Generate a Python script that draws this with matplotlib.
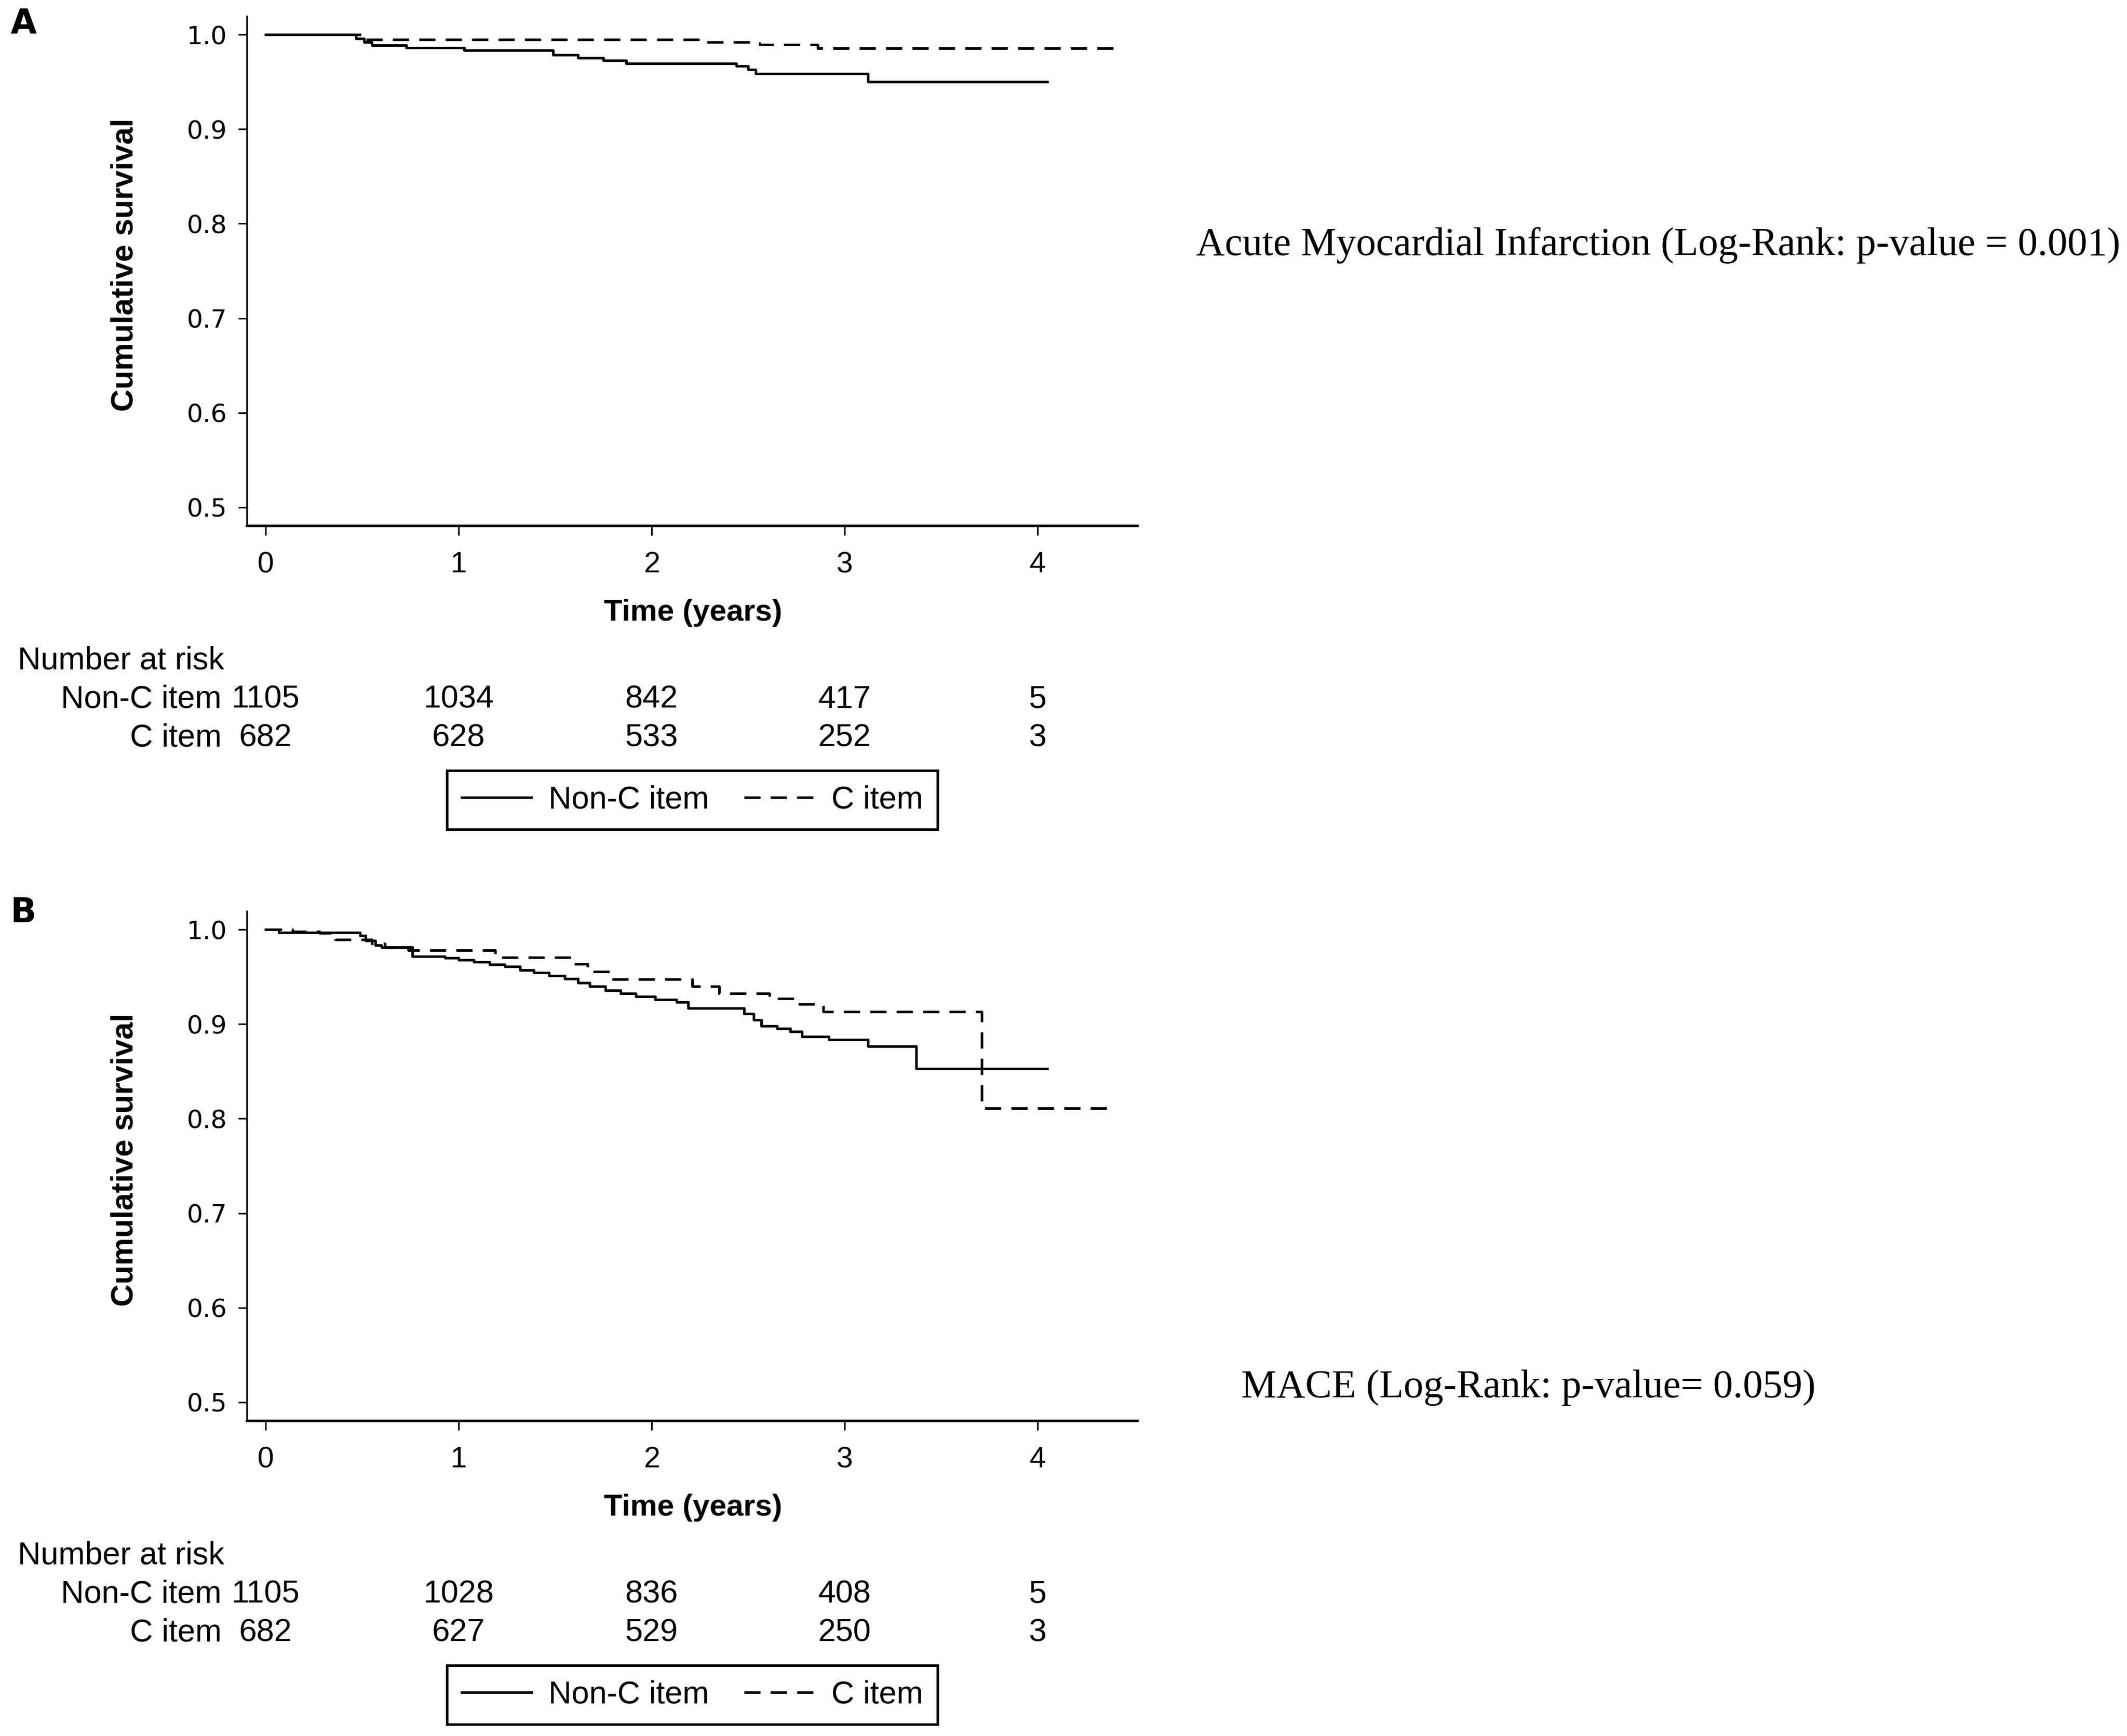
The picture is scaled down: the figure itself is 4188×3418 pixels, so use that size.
import numpy as np
import matplotlib
matplotlib.use("Agg")
import matplotlib.pyplot as plt
from matplotlib.lines import Line2D
from matplotlib.transforms import blended_transform_factory

# ---- data ----
years = [0, 1, 2, 3, 4]

# A: acute myocardial infarction
ami_t_nonc = [0, 0.47, 0.51, 0.55, 0.73, 1.03, 1.49, 1.62, 1.75, 1.87, 2.44, 2.50, 2.54, 3.12, 4.05]
ami_s_nonc = [1.0, 0.996, 0.992, 0.989, 0.9865, 0.9835, 0.979, 0.9753, 0.9726, 0.9695, 0.9668, 0.963, 0.959, 0.9505, 0.9505]
ami_t_c = [0, 0.52, 2.26, 2.56, 2.86, 4.41]
ami_s_c = [1.0, 0.9948, 0.992, 0.9894, 0.986, 0.986]
ami_risk_nonc = [1105, 1034, 842, 417, 5]
ami_risk_c = [682, 628, 533, 252, 3]

# B: MACE
mace_t_nonc = [0, 0.07, 0.49, 0.52, 0.57, 0.60, 0.76, 0.93, 1.00, 1.08, 1.16, 1.24, 1.32, 1.39, 1.47, 1.55, 1.62,
               1.68, 1.76, 1.84, 1.92, 2.02, 2.13, 2.19, 2.48, 2.53, 2.57, 2.65, 2.72, 2.78, 2.92, 3.12, 3.37, 4.05]
mace_s_nonc = [1.0, 0.997, 0.9938, 0.9886, 0.9834, 0.9813, 0.972, 0.9699, 0.9678, 0.9658, 0.9631, 0.961, 0.9575,
               0.9548, 0.9512, 0.9481, 0.944, 0.9398, 0.9357, 0.9326, 0.9295, 0.9263, 0.9232, 0.917, 0.9108, 0.9046,
               0.8983, 0.8952, 0.8921, 0.8869, 0.8838, 0.8766, 0.8531, 0.8531]
mace_t_c = [0, 0.14, 0.28, 0.36, 0.55, 0.62, 0.74, 1.19, 1.59, 1.67, 1.80, 2.21, 2.35, 2.61, 2.76, 2.89, 3.71, 4.41]
mace_s_c = [1.0, 0.998, 0.9965, 0.9895, 0.985, 0.981, 0.978, 0.9705, 0.9637, 0.9554, 0.9475, 0.9398, 0.9326,
            0.9274, 0.9212, 0.9133, 0.8112, 0.8112]
mace_risk_nonc = [1105, 1028, 836, 408, 5]
mace_risk_c = [682, 627, 529, 250, 3]

group_labels = ["Non-C item", "C item"]
yticks = [0.5, 0.6, 0.7, 0.8, 0.9, 1.0]

# ---- layout (pixel positions on a 4188x3418 canvas) ----
W, H = 4188, 3418
DPI = 200
SANS = ["Liberation Sans", "DejaVu Sans"]
SERIF = ["Liberation Serif", "DejaVu Serif"]
FS = 22.5
LW = 1.8
DASH = (6.4, 4)

fig = plt.figure(figsize=(W / DPI, H / DPI), dpi=DPI)


def fy(py):
    return 1 - py / H


def fx(px):
    return px / W


def draw_panel(top, t1, s1, t2, s2, r1, r2, letter, letter_y, note, note_x, note_y):
    left, right = 486, 2239
    height = 1003
    ax = fig.add_axes([fx(left), fy(top + height), fx(right - left), height / H])
    ax.plot(t1, s1, drawstyle="steps-post", color="black", lw=LW)
    ax.plot(t2, s2, drawstyle="steps-post", color="black", lw=LW, dashes=DASH)
    ax.set_xlim(-0.097, 4.516)
    ax.set_ylim(0.4804, 1.0196)
    ax.set_xticks(years)
    ax.set_yticks(yticks)
    ax.set_yticklabels(["%.1f" % v for v in yticks], family="DejaVu Sans", fontsize=18)
    ax.set_xticklabels([str(v) for v in years], family=SANS, fontsize=21)
    ax.spines["top"].set_visible(False)
    ax.spines["right"].set_visible(False)
    ax.spines["left"].set_linewidth(1.2)
    ax.spines["bottom"].set_linewidth(1.8)
    ax.tick_params(axis="y", length=6, width=1.1, pad=8)
    ax.tick_params(axis="x", length=7, width=1.1, pad=11)

    fig.text(fx(246), fy(top + 489), "Cumulative survival", rotation=90, ha="center", va="center",
             family=SANS, fontsize=22, fontweight="bold")
    fig.text(fx(1365), fy(top + 1175), "Time (years)", ha="center", va="center",
             family=SANS, fontsize=21.5, fontweight="bold")
    fig.text(fx(35), fy(top + 1269), "Number at risk", ha="left", va="center", family=SANS, fontsize=FS)

    # number at risk rows, numbers sit under the x ticks
    tr = blended_transform_factory(ax.transData, fig.transFigure)
    for row_y, lab, vals in [(1345, group_labels[0], r1), (1421, group_labels[1], r2)]:
        fig.text(fx(436), fy(top + row_y), lab, ha="right", va="center", family=SANS, fontsize=FS)
        for x, v in zip(years, vals):
            ax.text(x, fy(top + row_y), str(v), transform=tr, ha="center", va="center",
                    family=SANS, fontsize=FS)

    handles = [Line2D([], [], color="black", lw=LW),
               Line2D([], [], color="black", lw=LW, dashes=DASH)]
    leg = fig.legend(handles, group_labels, loc="center", bbox_to_anchor=(fx(1363), fy(top + 1543)),
                     ncol=2, frameon=True, fancybox=False, prop={"family": SANS, "size": FS},
                     handlelength=2.2, handletextpad=0.55, columnspacing=1.1, borderpad=0.45)
    leg.get_frame().set_edgecolor("black")
    leg.get_frame().set_linewidth(1.8)
    leg.get_frame().set_alpha(1)

    fig.text(fx(21), fy(letter_y), letter, ha="left", va="center", family="DejaVu Sans",
             fontsize=24, fontweight="bold")
    fig.text(fx(note_x), fy(note_y), note, ha="left", va="center", family=SERIF, fontsize=28.2)
    return ax


draw_panel(32, ami_t_nonc, ami_s_nonc, ami_t_c, ami_s_c, ami_risk_nonc, ami_risk_c,
           "A", 47, "Acute Myocardial Infarction (Log-Rank: p-value = 0.001)", 2355, 483)
draw_panel(1794, mace_t_nonc, mace_s_nonc, mace_t_c, mace_s_c, mace_risk_nonc, mace_risk_c,
           "B", 1797, "MACE (Log-Rank: p-value= 0.059)", 2444, 2732)

fig.savefig("out.png", dpi=DPI, facecolor="white")
